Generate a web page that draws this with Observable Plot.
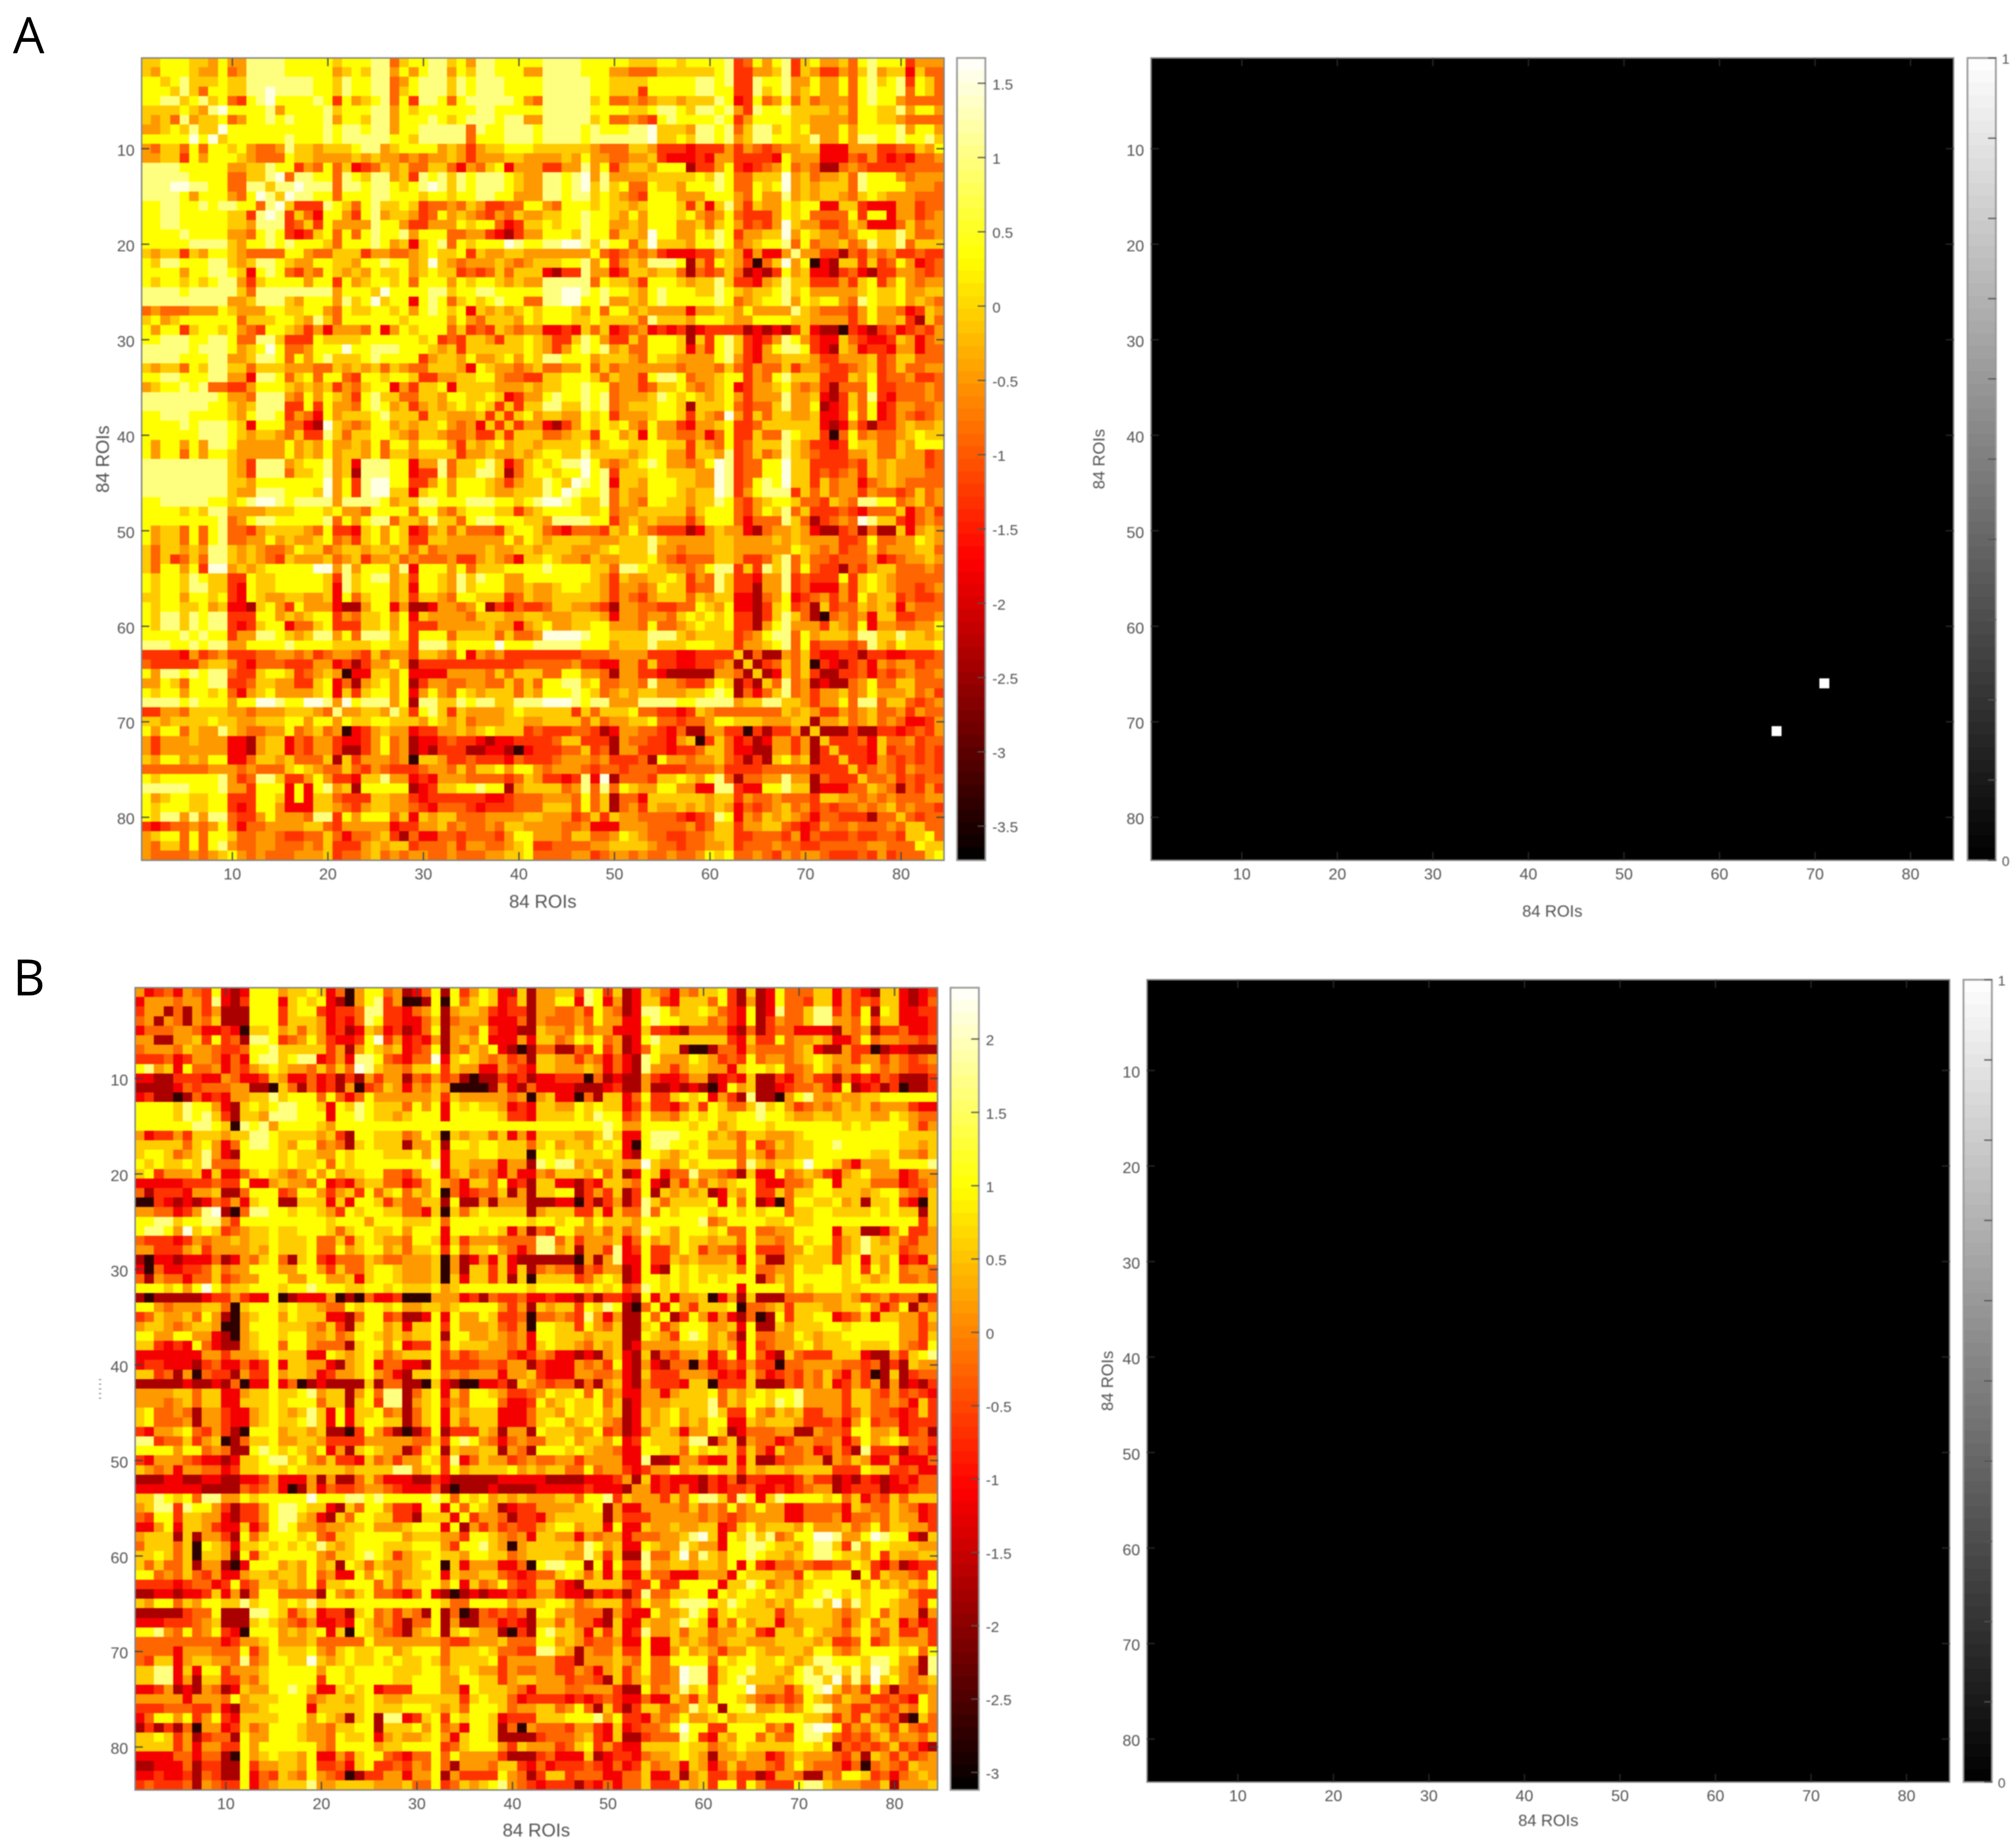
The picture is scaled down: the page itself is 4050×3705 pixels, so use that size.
<!DOCTYPE html>
<html><head><meta charset="utf-8">
<script src="https://cdn.jsdelivr.net/npm/d3@7"></script>
<script src="https://cdn.jsdelivr.net/npm/@observablehq/plot@0.6"></script>
<style>
html,body{margin:0;padding:0;background:#fff}
#page{position:relative;width:4050px;height:3705px;overflow:hidden;background:#fff}
#page svg{position:absolute;overflow:visible;max-width:none;filter:blur(1.3px)}
.tag{position:absolute;font-family:"Open Sans","Noto Sans",sans-serif;font-weight:500;font-size:100px;line-height:120px;color:#000}
</style></head><body><div id="page"></div>
<script>
// Estimated shade of each cell. Lower triangle, row by row
// (both matrices are symmetric). 0 = near black ... 9 = near white.
const shadesA = [
"6","65","776","7776","77886","666676","6564856","55676866","777779796",
"5466474776","5566375777 6","8888777775 56","8888877774 466","8889988774 4886","8888757775 47986",
"7788778788 774896","7788777776 6389836","7788777776 65888346","7777877775 547873236","7777788886 5778787776",
"6566365776 5444477544 6","7688777886 5688765577 66","7777577887 6278743547 656","7677676788 5367777577 3756","8888788888 6488888888 57776",
"8888888885 5688865777 586796","4544455576 5557766775 4766776","6756777777 4666776586 47777776",
"7577367767 5437765352 555472576","7788877887 4488633376 6667777776","8888878887 5679744577 7977888777 6","8888777885 5688747578 6667877773 56",
"6566476886 6466655544 6565646544 666","7788777885 5288746747 7437767763 3556","5677878443 3577765656 3546772536 67266",
"8888888875 5488854757 6537866446 657766","8888888776 5688833737 5547875635 6567676","7788877776 5788735427 5666786663 66555636",
"7777878887 6277744219 6545775656 675452636","7777778887 6566546338 6466776546 6544533636",
"7577575887 5555575657 5565747757 7753656756 6","7577475776 5555575657 5665746656 6663556556 56",
"8888888886 5388856778 5628887725 5846678624 676","8888888886 5388846678 5618887723 3846688614 6776","8888888886 6577777779 5738997733 5757776535 66876",
"8888888886 5588877769 5738996626 7757776556 668798","7788888776 7899878888 5888875668 8777888776 7899876",
"7777676885 5556667776 7554777747 7546777663 56777766","7777777784 5788777778 4757884665 8664788777 665888877",
"7566474784 4356666547 3326757623 5646444367 7643244436",
"7566474784 4557565567 4536757633 6655555575 7656666555 6","6466565886 5654457664 5665665646 4555556556 6566655567 66",
"6463464886 5654365556 4563556454 4453356542 6676554655 666","6477573995 6567777799 5857775827 7757466677 7787777664 8876",
"7677687663 3766777776 3867885637 7658687755 7777777653 65566","7677688663 2766777776 2867775627 7658677755 6556776653 554576",
"6677577673 2765566556 2746775636 6547766634 6556666653 5435666","7677667562 2167537555 2115772511 2554571324 3346655431 55443344",
"7688687883 3377565677 3546675726 5555466655 6655566652 554554676","7688687883 2367724467 3336675733 3555556552 5675566775 5547445676",
"7777878773 5588765688 5748886737 7746666464 4599998776 6668886566 6","8887787885 5777787777 6666776638 8867777977 7888887775 6668666777 66",
"3333253453 3344554534 5543645536 6547254533 3333334445 5553332233 336",
"4333335665 3244433355 2313557513 3333333333 4444453322 5536332233 4516",
"7588787884 3367763456 5022665722 2255554646 6644775541 5533211111 55416",
"5576477883 3466553367 2415675713 5544554464 6477886744 5548554335 761316",
"7677577674 2567555567 2636775725 7547656664 6577787645 6566555667 8714246",
"8888787775 7799877998 5978885718 8668788668 8899987885 5588887788 88566886",
"3355466665 5455566654 8556658637 8636555567 6666636466 6744332365 444444 46".slice(0,78),
"6656666766 5566677577 5766776665 7656455566 5566664645 5667443445 7766655566",
"7577465586 5445574564 5023565523 3556567666 3433344312 5544324115 533031 33516",
"5355565552 2156624355 3223574512 2343321223 3334663331 5443325603 6423125535 16",
"5355555552 2156624355 3113574512 1333112210 2333446341 5533323346 6422115535 136",
"6577565772 2466564446 1635554506 6533433324 3334555453 3341755455 6431316756 1336",
"4444444555 4544467654 4643543334 5546466757 7545554344 3444333444 5333344444 33336",
"7677777785 3488633575 3326685523 2555444434 6533238291 4443667657 8414455855 143336",
"8888877785 5377727278 5617777712 3667787715 6666458484 7655775522 8832277866 1222446",
"7567766773 3377627266 4333665532 3333332234 4455547461 4426666665 6635445444 36655454",
"7677766773 2377522266 5435665543 2444323334 4466647461 4536556565 6524345645 343445456",
"7688585884 3357555488 3757774626 5664445555 6655534636 5544443234 8725465654 2443331446",
"3234454574 2445555664 3555552335 5645445466 5555445222 5554444534 6635566432 3544544454 6",
"5677474776 4455433446 4244563142 2443444357 7555466445 7654433445 6633444352 4333433443 66",
"5466474785 4455444546 3335656634 4453554456 7334444556 6665443445 5634445443 3444445544 476",
"5444454567 5454445556 3445645455 4454445566 7444455345 5454454457 6744543545 5433343534 4467"
];

const shadesB = [
"5","25","355","4515","24445","551155","4555465","33342355","785627445",
"2211333225","1111243444 5","2311014232 55","7777687752 167","7777687863 1665","7777778876 08785",
"5233536665 668876","6666646752 4788765","6776456852 17777676","7676676844 477776766","6735556262 2467654575",
"2222233343 3722565547 2","4133325561 1477734775 35","0032121243 5267711666 262","5544235891 0488776776 5376","7788677885 3777777777 67775",
"7887596763 4566766777 646776","4333235455 6566766674 4636765","5533356355 5565766674 47567756","1022122241 2546741673 244465445","2042233464 5577755775 3644677655",
"4154424463 4557775577 5562677655 5","7776757975 6677767787 7766776766 67","1011111233 5322701222 5010422300 055","7754555664 0677767665 4476776755 6656",
"3465564751 0567757666 2214773411 27275","5665456650 0577766654 6316775626 673755","7755775521 0567767755 6457765656 6717755","6632327421 1567747754 4416775723 37476665",
"2222222553 5556766622 7656764566 673534555","2332221342 2423726655 2156724422 1733334435","6634150433 1533756652 3556754216 6745455525 5",
"1111121121 4022724012 1111614411 0621002231 65",
"5555664662 2566766785 6615748814 6726477653 345","5554564662 2666767774 6616738815 6735477742 2375",
"6744541553 2256765686 2726674514 6726566622 24665","6744451553 2256766786 2726776614 6726466622 246775",
"3255674353 1077756656 1103753101 3713336515 5176665","8834463560 1466755665 3333555554 4637875424 54466756",
"7777577454 1178767657 2516765513 6716556615 417776765",
"3255543221 2667886754 6332645355 7638246553 4544553555",
"6545255442 3667767666 6656666885 6737566667 5656644745 5",
"1112211221 1223522251 5114642221 1321111122 2221111222 35",
"2222222111 1434520152 4334554322 2410111211 1122222322 215",
"6687674885 5767777797 7788787777 7874767565 6555664778 3655",
"5688387753 1335788766 2164775332 7727476512 3355556671 52255",
"4377366552 1335788652 1647766331 6662735541 3325666661 533355",
"2257266532 2624787554 5566755567 7727153534 3356775662 7226556",
"5666161553 1746777674 3667777756 6655377654 5266552545 52444556",
"4666460765 2667676768 6567776667 7753778650 5666665875 622765586",
"6676460665 1736777775 4667876356 6766577664 5666655863 6118446958",
"6464461551 0277756575 6176465556 7706255522 4078877172 7338556656 6",
"7745464352 2566566574 5227576456 6726556643 2344676462 6226442225 55",
"3333234423 7346656573 6677746466 7757264574 3366321666 6433733777 726",
"1122122362 5147744441 7546744324 7210121223 2355322132 3138446677 2767",
"6577465776 6867767686 7777777777 7764477775 6667764566 6347557888 76876",
"1111134471 1188763562 3316745354 1714014343 4177554441 5322755687 367666",
"2223334561 1167654352 2327645314 4715114423 2166464421 6226556876 2647566",
"7785474573 2077756567 2607654315 6716765510 3178665263 6238556466 45566326",
"4444444442 3556755564 4444755555 5543355564 4477565344 5227226565 456655566",
"4444255544 4735766675 4676677567 7746667644 3388651544 6337225756 5355765566",
"4366256655 4845776696 5676676766 7646666735 5555331555 6547447777 4767766765 6",
"6688262773 5556777775 7767777666 7756765535 4455335425 6357445988 3677866657 86",
"6688251663 3546777773 7767777667 7755776635 6655534431 6356445988 3678666567 886",
"2235121541 2655778762 2676723337 7755276665 4255544555 3117455867 4777955535 7896",
"5555525554 7566677745 6656765566 6666367664 2333323234 3224226536 4776543434 76546",
"3334443352 1556777726 6666766677 7656477764 5566457416 3136644586 7177855645 788553",
"2477573573 2666677757 6516718823 6737677623 3366677785 7332545755 6756667777 6653536",
"1313140552 3645777655 4667716667 5745277614 0544435532 6234457977 3377774537 89973546",
"6676351344 1755777655 4766725655 6752677611 1134445632 6113444873 2657746447 886434356",
"6666352553 3757777775 4777756677 7734677753 6555346735 3226666766 4567666667 7671434346",
"2222442441 0756766572 2536774324 4747555531 1134222612 3324556765 1556552356 5554351653 5",
"1122241331 1735566573 3426733435 4741555466 3242333432 4236455265 2464554357 5444240454 36",
"2232231431 1724365475 4301335525 5715333375 4136634442 2446225156 3353312554 1154776342 456",
"3433341543 3724566685 5666655564 4734656785 4323331324 2446333656 3773753337 8865554461 5556"
];

// Values (colour-bar units) behind each shade digit
const levelsA = [-3.35,-2.38,-1.78,-1.30,-0.90,-0.49,-0.09,0.32,0.99,1.51];
const levelsB = [-2.74,-1.75,-1.15,-0.66,-0.25,0.16,0.57,0.98,1.67,2.19];
const significantA = [[71,66],[66,71]];   // white cells of the right-hand map in A
const significantB = [];                  // none in B

const rois = d3.range(1,85);
const axisTicks = [10,20,30,40,50,60,70,80];
const barTicksA = [-3.5,-3,-2.5,-2,-1.5,-1,-0.5,0,0.5,1,1.5];
const barTicksB = [-3,-2.5,-2,-1.5,-1,-0.5,0,0.5,1,1.5,2];
const grayBarTicks = [0,0.1,0.2,0.3,0.4,0.5,0.6,0.7,0.8,0.9,1];
const grayBarLabels = [0,1];
const axisLabel = "84 ROIs";

const clamp01 = t => Math.max(0,Math.min(1,t));
const hot = t => `rgb(${Math.round(255*clamp01(t/0.375))},${Math.round(255*clamp01((t-0.375)/0.375))},${Math.round(255*clamp01((t-0.75)/0.25))})`;
const gray = t => { const g=Math.round(255*clamp01(t)); return `rgb(${g},${g},${g})`; };

function cellsFromShades(rows, levels){
  const out=[];
  rows.forEach((raw,i)=>{
    const row=raw.replace(/\s/g,"").slice(0,i+1);
    for(let j=0;j<=i;j++){
      const d = row[j]===undefined ? 5 : +row[j];
      const v = levels[d];
      out.push({x:j+1,y:i+1,v});
      if(i!==j) out.push({x:i+1,y:j+1,v});
    }
  });
  return out;
}
function cellsFromPairs(pairs){
  const on=new Set(pairs.map(p=>p[0]+"_"+p[1])), out=[];
  for(const y of rois) for(const x of rois) out.push({x,y,v:on.has(x+"_"+y)?1:0});
  return out;
}

const page=document.getElementById("page");
const FONT='"Liberation Sans",Arial,sans-serif', TXT="#555";
const SIZE=1612, ML=180, MR=20, MT=20, MB=150;

function heat(o){
  const marks=[
    Plot.cell(o.cells,{x:"x",y:"y",fill:"v",inset:0,shapeRendering:"crispEdges"}),
    Plot.frame({stroke:"#858585",strokeWidth:3}),
    Plot.axisX({ticks:axisTicks,anchor:"bottom",tickSize:-16,tickFormat:()=>"",label:null,stroke:o.tick,strokeWidth:2.5}),
    Plot.axisX({ticks:axisTicks,anchor:"top",tickSize:-16,tickFormat:()=>"",label:null,stroke:o.tick,strokeWidth:2.5}),
    Plot.axisY({ticks:axisTicks,anchor:"left",tickSize:-16,tickFormat:()=>"",label:null,stroke:o.tick,strokeWidth:2.5}),
    Plot.axisY({ticks:axisTicks,anchor:"right",tickSize:-16,tickFormat:()=>"",label:null,stroke:o.tick,strokeWidth:2.5}),
    Plot.axisX({ticks:axisTicks,anchor:"bottom",tickSize:0,tickPadding:16,fontSize:32,color:TXT,label:null}),
    Plot.axisY({ticks:axisTicks,anchor:"left",tickSize:0,tickPadding:14,dy:4,fontSize:32,color:TXT,label:null}),
    Plot.axisX({ticks:[],anchor:"bottom",tickSize:0,fontSize:o.labelSize,color:TXT,label:axisLabel,labelAnchor:"center",labelArrow:"none",labelOffset:o.xOff})
  ];
  marks.push(Plot.axisY({ticks:[],anchor:"left",tickSize:0,fontSize:o.yText?o.labelSize:20,color:TXT,
    label:o.yText||"' ' ' ' '",labelAnchor:"center",labelArrow:"none",labelOffset:o.yOff}));
  const svg=Plot.plot({
    width:SIZE+ML+MR,height:SIZE+MT+MB,marginLeft:ML,marginRight:MR,marginTop:MT,marginBottom:MB,
    style:{fontFamily:FONT,background:"transparent",overflow:"visible"},
    x:{type:"band",domain:rois,padding:0,round:false,axis:null},
    y:{type:"band",domain:rois,padding:0,round:false,axis:null},
    color:{type:"linear",domain:o.domain,interpolate:o.scheme,legend:false},
    marks
  });
  svg.style.left=(o.left-ML)+"px"; svg.style.top=(o.top-MT)+"px";
  page.appendChild(svg);
}

function bar(o){
  const [lo,hi]=o.domain, n=64, bands=d3.range(n).map(i=>({a:lo+(hi-lo)*i/n,b:lo+(hi-lo)*(i+1)/n,m:lo+(hi-lo)*(i+.5)/n}));
  const W=57, R=150, T=30, B=30;
  const svg=Plot.plot({
    width:W+R,height:SIZE+T+B,marginLeft:0,marginRight:R,marginTop:T,marginBottom:B,
    style:{fontFamily:FONT,background:"transparent",overflow:"visible"},
    x:{type:"linear",domain:[0,1],axis:null},
    y:{type:"linear",domain:[lo,hi],axis:null},
    color:{type:"linear",domain:o.domain,interpolate:o.scheme},
    marks:[
      Plot.rect(bands,{x1:0,x2:1,y1:"a",y2:"b",fill:"m",inset:0,shapeRendering:"crispEdges"}),
      Plot.frame({stroke:"#999",strokeWidth:3.5}),
      Plot.axisY({ticks:o.ticks,anchor:"right",tickSize:-16,tickFormat:()=>"",label:null,stroke:"#555",strokeWidth:2.5}),
      Plot.axisY({ticks:o.labels,anchor:"right",tickSize:0,tickPadding:o.pad,dy:3,fontSize:o.size,color:TXT,label:null,tickFormat:d=>String(d)})
    ]
  });
  svg.style.left=o.left+"px"; svg.style.top=(o.top-T)+"px";
  page.appendChild(svg);
}

heat({left:284,top:116,cells:cellsFromShades(shadesA,levelsA),domain:[-3.73,1.67],scheme:hot,tick:"#444",labelSize:37,xOff:95,yOff:92,yText:axisLabel});
bar({left:1922,top:116,domain:[-3.73,1.67],scheme:hot,ticks:barTicksA,labels:barTicksA,pad:14,size:30});
heat({left:2312,top:116,cells:cellsFromPairs(significantA),domain:[0,1],scheme:gray,tick:"#2a2a2a",labelSize:33,xOff:113,yOff:117,yText:axisLabel});
bar({left:3952,top:116,domain:[0,1],scheme:gray,ticks:grayBarTicks,labels:grayBarLabels,pad:12,size:28});
heat({left:271,top:1984,cells:cellsFromShades(shadesB,levelsB),domain:[-3.12,2.35],scheme:hot,tick:"#444",labelSize:37,xOff:93,yOff:73,yText:null});
bar({left:1909,top:1984,domain:[-3.12,2.35],scheme:hot,ticks:barTicksB,labels:barTicksB,pad:14,size:30});
heat({left:2304,top:1968,cells:cellsFromPairs(significantB),domain:[0,1],scheme:gray,tick:"#2a2a2a",labelSize:33,xOff:88,yOff:92,yText:axisLabel});
bar({left:3944,top:1968,domain:[0,1],scheme:gray,ticks:grayBarTicks,labels:grayBarLabels,pad:12,size:28});

for(const [t,x,y] of [["A",26,8],["B",26,1901]]){
  const d=document.createElement("div");d.className="tag";d.textContent=t;d.style.left=x+"px";d.style.top=y+"px";page.appendChild(d);
}
</script>
</body></html>
